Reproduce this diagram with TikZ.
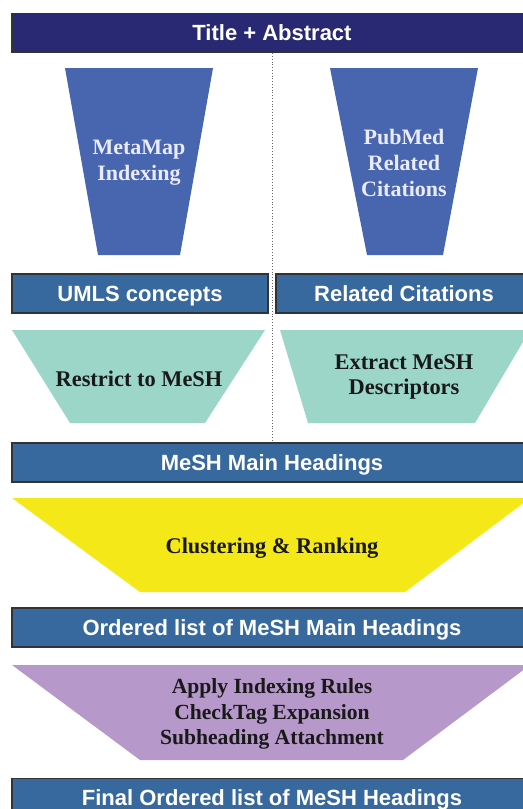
\documentclass[tikz,border=0pt]{standalone}
\usepackage{fontspec}
\setmainfont{Liberation Serif}
\setsansfont{Liberation Sans}
\definecolor{navy}{RGB}{41,41,115}
\definecolor{funnelblue}{RGB}{72,102,176}
\definecolor{barblue}{RGB}{55,104,158}
\definecolor{tealfill}{RGB}{155,214,200}
\definecolor{yellowfill}{RGB}{245,232,25}
\definecolor{purplefill}{RGB}{182,152,203}

\begin{document}
\begin{tikzpicture}[x = 0.5pt, y = -0.5pt,
    barbox/.style = {draw = black!80, line width = 0.7pt, fill = barblue, minimum height = 19.5pt, inner sep = 0pt,
                     text height = 7.9pt, text depth = 0pt,
                     text = white, font = \sffamily\bfseries\fontsize{11}{13}\selectfont},
    funneltext/.style = {text = white!92!blue, align = center, font = \bfseries\fontsize{11}{13}\selectfont},
    steptext/.style = {text = black!90, align = center, font = \bfseries\fontsize{11.2}{12.8}\selectfont},
    divider/.style = {densely dotted, black!60, line width = 0.4pt}]
    \useasboundingbox (0,0) rectangle (523,809);
    \clip (0,0) rectangle (523,809);
    \node[barbox, fill = navy, minimum width = 260pt] (title) at (272,33) {Title + Abstract};
    \fill[funnelblue] (65,68) -- (213,68) -- (180,255) -- (98,255) -- cycle;
    \fill[funnelblue] (330,68) -- (478,68) -- (443,255) -- (367,255) -- cycle;
    \node[funneltext] (metamap) at (139,163) {MetaMap\\Indexing};
    \node[funneltext] (pubmed) at (404,163) {PubMed\\Related\\Citations};
    \node[barbox, minimum width = 128pt] (umls) at (140,293.5) {UMLS concepts};
    \node[barbox, minimum width = 128pt] (related) at (404,293.5) {Related Citations};
    \fill[tealfill] (12,330) -- (265,330) -- (205,423) -- (70,423) -- cycle;
    \fill[tealfill] (280,330) -- (530,330) -- (475,423) -- (308,423) -- cycle;
    \node[steptext] (restrict) at (139,379) {Restrict to MeSH};
    \node[steptext] (extract) at (404,377) {Extract MeSH\\Descriptors};
    \node[barbox, minimum width = 260pt] (mainhead) at (272,462.5) {MeSH Main Headings};
    \draw[divider] (title.south) -- (mainhead.north);
    \fill[yellowfill] (12,498) -- (530,498) -- (405,592) -- (140,592) -- cycle;
    \node[steptext] (cluster) at (272,548) {Clustering \& Ranking};
    \node[barbox, minimum width = 260pt] (ordered) at (272,627.5) {Ordered list of MeSH Main Headings};
    \fill[purplefill] (12,665) -- (530,665) -- (403,760) -- (140,760) -- cycle;
    \node[steptext, font = \bfseries\fontsize{10.8}{12.6}\selectfont] (rules) at (272,714) {Apply Indexing Rules\\CheckTag Expansion\\Subheading Attachment};
    \node[barbox, minimum width = 260pt] (final) at (272,798) {Final Ordered list of MeSH Headings};
\end{tikzpicture}
\end{document}
